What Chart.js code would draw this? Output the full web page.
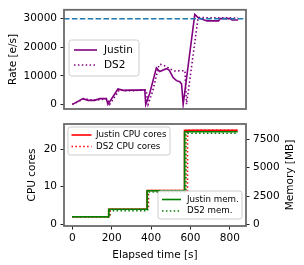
<!DOCTYPE html>
<html><head><meta charset="utf-8">
<script src="https://cdn.jsdelivr.net/npm/chart.js@4.4.1/dist/chart.umd.min.js"></script>
<style>
html,body{margin:0;padding:0;background:#fff;}
#wrap{position:relative;width:304px;height:265px;}
canvas{position:absolute;left:0;top:0;}
</style></head>
<body><div id="wrap"><canvas id="c1" width="304" height="265"></canvas><canvas id="c2" width="304" height="265"></canvas></div>
<script>
// ---- data ----
const justinTime = [0, 20, 54, 80, 113, 140, 173, 181, 232, 258, 300, 340, 368, 373, 393, 427, 444, 478, 492, 512, 529, 546, 555, 563, 622, 640, 684, 743, 751, 802, 811, 842];
const justinRate = [0, 700, 2000, 1400, 1400, 2000, 2000, 0, 5400, 4900, 5000, 5000, 5100, 0, 3800, 12800, 11500, 12500, 12000, 9400, 8300, 7900, 7100, 0, 31500, 30300, 29200, 29200, 30000, 30000, 29500, 29500];
const ds2Time = [0, 25, 60, 90, 120, 150, 178, 190, 240, 270, 310, 350, 375, 385, 410, 440, 447, 478, 495, 521, 572, 580, 639, 700, 760, 842];
const ds2Rate = [0, 800, 2100, 1500, 1500, 1700, 2000, 0, 5200, 4800, 4800, 5000, 5000, 0, 5000, 13800, 14000, 13300, 12400, 11700, 11800, 0, 30400, 30300, 30300, 30200];
const targetRate = 30000;

const justinCoreTime = [0, 185, 380, 570, 840];
const justinCores = [2, 4, 9, 25, 25];
const ds2CoreTime = [0, 192, 387, 585, 840];
const ds2Cores = [2, 4, 9, 25, 25];
const justinMemTime = [0, 185, 380, 570, 840];
const justinMem = [670, 1330, 2970, 8180, 8180];
const ds2MemTime = [0, 190, 383, 577, 840];
const ds2Mem = [640, 1200, 2850, 8040, 8040];

const timeTicks = [0, 200, 400, 600, 800];
const rateTicks = [0, 10000, 20000, 30000];
const coreTicks = [0, 10, 20];
const memTicks = [0, 2500, 5000, 7500];

const labels = {
  rateY: 'Rate [e/s]', coresY: 'CPU cores', memY: 'Memory [MB]', timeX: 'Elapsed time [s]',
  justin: 'Justin', ds2: 'DS2',
  justinCpu: 'Justin CPU cores', ds2Cpu: 'DS2 CPU cores',
  justinMem: 'Justin mem.', ds2Mem: 'DS2 mem.'
};

const pts = (xs, ys) => xs.map((x, i) => ({x: x, y: ys[i]}));
const setTicks = arr => (s => { s.ticks = arr.map(v => ({value: v})); });

Chart.defaults.font.family = '"DejaVu Sans"';
Chart.defaults.font.size = 10.5;
Chart.defaults.color = '#000';

const FONT = '"DejaVu Sans"';

function roundRect(ctx, x, y, w, h, r) {
  ctx.beginPath();
  ctx.moveTo(x + r, y);
  ctx.lineTo(x + w - r, y); ctx.arcTo(x + w, y, x + w, y + r, r);
  ctx.lineTo(x + w, y + h - r); ctx.arcTo(x + w, y + h, x + w - r, y + h, r);
  ctx.lineTo(x + r, y + h); ctx.arcTo(x, y + h, x, y + h - r, r);
  ctx.lineTo(x, y + r); ctx.arcTo(x, y, x + r, y, r);
  ctx.closePath();
}

const deco = {
  id: 'deco',
  afterDatasetsDraw(chart, args, o) {
    const ctx = chart.ctx, a = chart.chartArea;
    ctx.save();
    if (o.hline) {
      const ys = chart.scales[o.hline.scale].getPixelForValue(o.hline.value);
      ctx.beginPath();
      ctx.rect(a.left, a.top, a.right - a.left, a.bottom - a.top); ctx.clip();
      ctx.beginPath();
      ctx.setLineDash([5.5, 2.4]);
      ctx.strokeStyle = o.hline.color; ctx.lineWidth = 1.5;
      ctx.moveTo(a.left, ys); ctx.lineTo(a.right, ys); ctx.stroke();
    }
    ctx.restore();
    ctx.save();
    ctx.setLineDash([]);
    ctx.strokeStyle = '#6a6a6a'; ctx.lineWidth = 1.8;
    ctx.strokeRect(a.left, a.top, a.right - a.left, a.bottom - a.top);
    ctx.restore();
  },
  afterDraw(chart, args, o) {
    const ctx = chart.ctx;
    if (o.rightTitle) {
      const t = o.rightTitle;
      ctx.save();
      ctx.translate(t.x, (chart.chartArea.top + chart.chartArea.bottom) / 2);
      ctx.rotate(-Math.PI / 2);
      ctx.font = `${t.size}px ${FONT}`; ctx.fillStyle = '#000';
      ctx.textAlign = 'center'; ctx.textBaseline = 'middle';
      ctx.fillText(t.text, 0, 0);
      ctx.restore();
    }
    (o.legends || []).forEach(b => {
      ctx.save();
      roundRect(ctx, b.x, b.y, b.w, b.h, 2.5);
      ctx.fillStyle = 'rgba(255,255,255,0.85)'; ctx.fill();
      ctx.strokeStyle = '#cccccc'; ctx.lineWidth = 1; ctx.stroke();
      b.items.forEach((idx, i) => {
        const ds = chart.data.datasets[idx];
        const y = b.y + b.first + i * b.step;
        ctx.beginPath();
        ctx.setLineDash(ds.borderDash || []);
        ctx.strokeStyle = ds.borderColor; ctx.lineWidth = ds.borderWidth;
        ctx.moveTo(b.x + b.l0, y); ctx.lineTo(b.x + b.l1, y); ctx.stroke();
        ctx.setLineDash([]);
        ctx.fillStyle = '#000'; ctx.font = `${b.size}px ${FONT}`;
        ctx.textAlign = 'left'; ctx.textBaseline = 'middle';
        ctx.fillText(ds.label, b.x + b.tx, y);
      });
      ctx.restore();
    });
  }
};

const dotted = [1.5, 2.4];
const axisGrid = {drawOnChartArea: false, drawTicks: true, tickLength: 3.5, tickColor: '#222', tickWidth: 1};

new Chart(document.getElementById('c1'), {
  type: 'line',
  data: {datasets: [
    {label: labels.justin, data: pts(justinTime, justinRate), borderColor: '#800080', borderWidth: 1.6, pointRadius: 0, tension: 0, fill: false},
    {label: labels.ds2, data: pts(ds2Time, ds2Rate), borderColor: '#800080', borderWidth: 1.6, borderDash: dotted, pointRadius: 0, tension: 0, fill: false}
  ]},
  options: {
    responsive: false, animation: false, devicePixelRatio: 1,
    layout: {padding: {top: 8, left: 0, right: 58, bottom: 156}},
    plugins: {legend: {display: false}, tooltip: {enabled: false},
      deco: {hline: {scale: 'y', value: targetRate, color: '#1f77b4'},
        legends: [{x: 69, y: 40, w: 70, h: 36, first: 10, step: 15, l0: 5, l1: 28, tx: 35, size: 10.5, items: [0, 1]}]}},
    scales: {
      x: {type: 'linear', min: -42, max: 882, display: false},
      y: {type: 'linear', min: -1615, max: 33090, afterBuildTicks: setTicks(rateTicks),
        afterFit: s => { s.width = 64; },
        grid: axisGrid, border: {display: false},
        ticks: {padding: 3.5, callback: v => String(v)},
        title: {display: true, text: labels.rateY, padding: {top: 6.7, bottom: 0}}}
    }
  },
  plugins: [deco]
});

new Chart(document.getElementById('c2'), {
  type: 'line',
  data: {datasets: [
    {label: labels.justinCpu, data: pts(justinCoreTime, justinCores), yAxisID: 'y', stepped: true, borderColor: '#ff0000', borderWidth: 1.6, pointRadius: 0, order: 3},
    {label: labels.ds2Cpu, data: pts(ds2CoreTime, ds2Cores), yAxisID: 'y', stepped: true, borderColor: '#ff0000', borderWidth: 1.6, borderDash: dotted, pointRadius: 0, order: 2},
    {label: labels.justinMem, data: pts(justinMemTime, justinMem), yAxisID: 'y2', stepped: true, borderColor: '#008000', borderWidth: 1.6, pointRadius: 0, order: 1},
    {label: labels.ds2Mem, data: pts(ds2MemTime, ds2Mem), yAxisID: 'y2', stepped: true, borderColor: '#008000', borderWidth: 1.6, borderDash: dotted, pointRadius: 0, order: 0}
  ]},
  options: {
    responsive: false, animation: false, devicePixelRatio: 1,
    layout: {padding: {top: 124, left: 0, right: 0, bottom: 0}},
    plugins: {legend: {display: false}, tooltip: {enabled: false},
      deco: {rightTitle: {text: labels.memY, x: 290, size: 10.5},
        legends: [
          {x: 68, y: 127, w: 102, h: 28, first: 8, step: 11.5, l0: 3.5, l1: 23.5, tx: 28, size: 8.7, items: [0, 1]},
          {x: 158, y: 191, w: 84, h: 28, first: 8.5, step: 11.5, l0: 4, l1: 23, tx: 29, size: 8.7, items: [2, 3]}
        ]}},
    scales: {
      x: {type: 'linear', min: -42, max: 882, afterBuildTicks: setTicks(timeTicks),
        afterFit: s => { s.height = 39; },
        grid: axisGrid, border: {display: false},
        ticks: {padding: 2.5, maxRotation: 0, callback: v => String(v)},
        title: {display: true, text: labels.timeX, padding: {top: 0, bottom: 3.5}}},
      y: {type: 'linear', position: 'left', min: -0.45, max: 26.7, afterBuildTicks: setTicks(coreTicks),
        afterFit: s => { s.width = 64; },
        grid: axisGrid, border: {display: false},
        ticks: {padding: 3.5, callback: v => String(v)},
        title: {display: true, text: labels.coresY, padding: {top: 25.7, bottom: 0}}},
      y2: {type: 'linear', position: 'right', min: -150, max: 8860, afterBuildTicks: setTicks(memTicks),
        afterFit: s => { s.width = 58; },
        grid: axisGrid, border: {display: false},
        ticks: {padding: 3.5, callback: v => String(v)}}
    }
  },
  plugins: [deco]
});
</script></body></html>
